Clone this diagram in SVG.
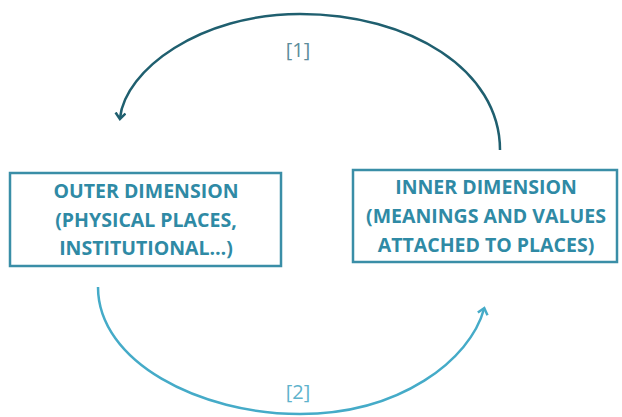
<svg xmlns="http://www.w3.org/2000/svg" width="622" height="417" viewBox="0 0 622 417">
<defs>
<style>
.box{fill:#fff;stroke:#3a8ea7;stroke-width:2.5}
.lbl{font-family:"Open Sans","Liberation Sans",sans-serif;font-weight:bold;font-size:19.5px;fill:#2f8aa5;text-anchor:middle}
.num{font-family:"Open Sans","Liberation Sans",sans-serif;font-size:20px;text-anchor:middle}
</style>
<marker id="a1" viewBox="0 0 12 12" refX="6" refY="6" markerWidth="12" markerHeight="12" markerUnits="userSpaceOnUse" orient="auto"><path d="M1,1 L7,6 L1,11" fill="none" stroke="#1f5f6f" stroke-width="2.5"/></marker>
<marker id="a2" viewBox="0 0 12 12" refX="6" refY="6" markerWidth="12" markerHeight="12" markerUnits="userSpaceOnUse" orient="auto"><path d="M1,1 L7,6 L1,11" fill="none" stroke="#45abc8" stroke-width="2.5"/></marker>
</defs>
<rect width="622" height="417" fill="#fff"/>
<g id="connectors">
<path d="M500,150 C500,70 410,14 300,14 C200,14 125,70 120,118" fill="none" stroke="#1f5f6f" stroke-width="2.5" marker-end="url(#a1)"/>
<path d="M98,287 C98,362 200,414 300,414 C400,414 470,360 484,309" fill="none" stroke="#45abc8" stroke-width="2.5" marker-end="url(#a2)"/>
<text class="num" x="298" y="57" fill="#5d8d9c">[1]</text>
<text class="num" x="298" y="399" fill="#5fb3cc">[2]</text>
</g>
<g id="outer">
<rect class="box" x="10" y="173" width="271" height="93"/>
<text class="lbl" x="146" y="198">OUTER DIMENSION</text>
<text class="lbl" x="146" y="227">(PHYSICAL PLACES,</text>
<text class="lbl" x="146" y="255">INSTITUTIONAL…)</text>
</g>
<g id="inner">
<rect class="box" x="353" y="170" width="264" height="92"/>
<text class="lbl" x="486" y="194">INNER DIMENSION</text>
<text class="lbl" x="486" y="223">(MEANINGS AND VALUES</text>
<text class="lbl" x="486" y="252">ATTACHED TO PLACES)</text>
</g>
</svg>
